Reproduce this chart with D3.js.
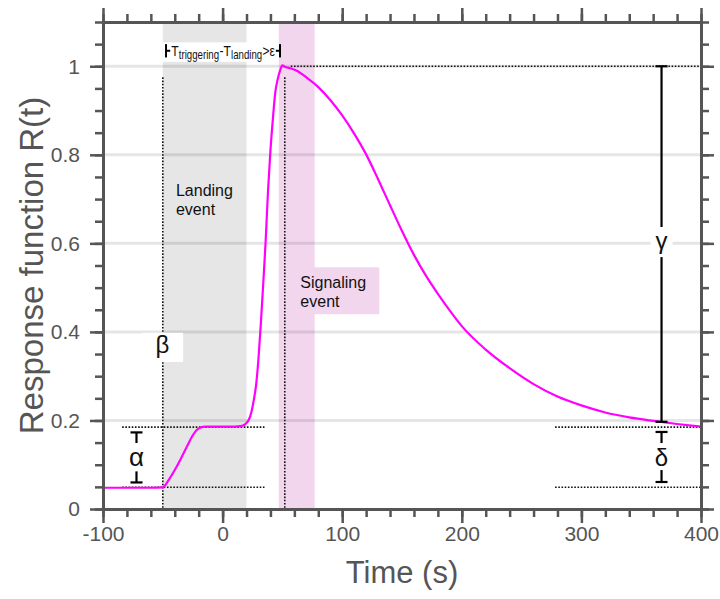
<!DOCTYPE html>
<html>
<head>
<meta charset="utf-8">
<script src="https://cdn.jsdelivr.net/npm/d3@7"></script>
<style>
  body { margin: 0; background: #fff; }
  svg { display: block; }
  text { font-family: "Liberation Sans", Arial, Helvetica, sans-serif; }
</style>
</head>
<body>
<div id="chart"></div>
<script>
// response curve
var timeSec = [-100, -60, -50, -45, -40, -35, -30, -25, -20, -15, 0, 10, 15, 18, 20, 22, 24, 26, 28, 30,
  32, 34, 36, 38, 40, 42, 44, 46, 48, 50, 52, 56, 62, 70, 80, 90, 100, 110, 120, 130,
  140, 150, 160, 170, 180, 190, 200, 220, 240, 260, 280, 300, 320, 340, 360, 380, 400];
var response = [0.048, 0.048, 0.049, 0.066, 0.088, 0.113, 0.140, 0.166, 0.182, 0.186, 0.186, 0.186, 0.187, 0.190, 0.194, 0.202, 0.218, 0.245, 0.280, 0.340,
  0.420, 0.510, 0.605, 0.720, 0.810, 0.880, 0.940, 0.970, 0.990, 1.002, 0.999, 0.996, 0.990, 0.975, 0.953, 0.924, 0.889, 0.848, 0.801, 0.745,
  0.686, 0.628, 0.574, 0.527, 0.486, 0.448, 0.413, 0.360, 0.318, 0.282, 0.254, 0.234, 0.218, 0.207, 0.199, 0.192, 0.186];

var xTickValues = [-100, 0, 100, 200, 300, 400];
var yTickValues = [0, 0.2, 0.4, 0.6, 0.8, 1];
var yTickLabels = ["0", "0.2", "0.4", "0.6", "0.8", "1"];
var gridValues = [0.2, 0.4, 0.6, 0.8, 1];

var landingWindow = [-50, 20];
var signalingWindow = [47, 77];

var baseLevel = 0.049;
var plateauLevel = 0.185;
var peakLevel = 1.0;
var tailLevel = 0.197;

var landingTime = -50;
var peakTime = 52;
var alphaTime = -72;
var rightMarkTime = 367;

// pieces of the "T_triggering - T_landing > ε" note: text, is it a subscript
var notePieces = [["T", false], ["triggering", true], ["-T", false], ["landing", true], [">ε", false]];

function chart() {
  var width = 720;
  var height = 599;
  var margin = {top: 22, right: 19, bottom: 90, left: 103};

  var x = d3.scaleLinear().domain([-100, 400]).range([margin.left, width - margin.right]);
  var y = d3.scaleLinear().domain([0, 1.1]).range([height - margin.bottom, margin.top]);

  var svg = d3.select("#chart")
    .append("svg")
    .attr("width", width)
    .attr("height", height);

  // shaded events
  svg.append("rect")
    .attr("x", x(landingWindow[0])).attr("width", x(landingWindow[1]) - x(landingWindow[0]))
    .attr("y", y(1.1)).attr("height", y(0) - y(1.1))
    .attr("fill", "#e6e6e6");
  svg.append("rect")
    .attr("x", x(signalingWindow[0])).attr("width", x(signalingWindow[1]) - x(signalingWindow[0]))
    .attr("y", y(1.1)).attr("height", y(0) - y(1.1))
    .attr("fill", "#f2d6ee");
  // box behind "Signaling event"
  svg.append("rect")
    .attr("x", x(signalingWindow[0])).attr("width", x(131) - x(signalingWindow[0]))
    .attr("y", y(0.546)).attr("height", y(0.44) - y(0.546))
    .attr("fill", "#f2d6ee");

  // gridlines
  svg.append("g")
    .selectAll("line")
    .data(gridValues)
    .join("line")
    .attr("x1", x(-100)).attr("x2", x(400))
    .attr("y1", function (d) { return y(d); })
    .attr("y2", function (d) { return y(d); })
    .attr("stroke", "rgba(0,0,0,0.1)")
    .attr("stroke-width", 3);

  // white box behind the top note
  svg.append("rect")
    .attr("x", x(-50)).attr("width", x(47) - x(-50))
    .attr("y", y(1.054)).attr("height", y(1.010) - y(1.054))
    .attr("fill", "#fff");

  var dotted = svg.append("g")
    .attr("stroke", "#111")
    .attr("stroke-width", 1.6)
    .attr("stroke-dasharray", "1.6,1.6")
    .attr("fill", "none");

  function dline(t1, v1, t2, v2) {
    dotted.append("line")
      .attr("x1", x(t1)).attr("y1", y(v1))
      .attr("x2", x(t2)).attr("y2", y(v2));
  }
  dline(landingTime, 0.975, landingTime, 0);
  dline(peakTime, 0.975, peakTime, 0);
  dline(57, peakLevel, 400, peakLevel);
  dline(-84, plateauLevel, 35, plateauLevel);
  dline(-84, baseLevel, 35, baseLevel);
  dline(278, plateauLevel, 400, plateauLevel);
  dline(278, baseLevel, 400, baseLevel);

  // beta box
  svg.append("rect")
    .attr("x", x(-67)).attr("width", x(-33) - x(-67))
    .attr("y", y(0.398)).attr("height", y(0.332) - y(0.398))
    .attr("fill", "#fff");

  // response curve
  var points = timeSec.map(function (t, i) { return [t, response[i]]; });
  var line = d3.line()
    .x(function (d) { return x(d[0]); })
    .y(function (d) { return y(d[1]); })
    .curve(d3.curveMonotoneX);
  svg.append("path")
    .datum(points)
    .attr("d", line)
    .attr("fill", "none")
    .attr("stroke", "#ff00ff")
    .attr("stroke-width", 2.2);

  // brackets
  var marks = svg.append("g")
    .attr("stroke", "#000")
    .attr("stroke-width", 2.2)
    .attr("fill", "none");

  function capLine(t, v1, v2, capTop, capBottom) {
    var cx = x(t);
    marks.append("line").attr("x1", cx).attr("x2", cx).attr("y1", y(v1)).attr("y2", y(v2));
    if (capTop) {
      marks.append("line").attr("x1", cx - 6).attr("x2", cx + 6).attr("y1", y(v1)).attr("y2", y(v1));
    }
    if (capBottom) {
      marks.append("line").attr("x1", cx - 6).attr("x2", cx + 6).attr("y1", y(v2)).attr("y2", y(v2));
    }
  }
  // gamma
  capLine(rightMarkTime, peakLevel, tailLevel, true, true);
  // delta
  capLine(rightMarkTime, 0.174, 0.149, true, false);
  capLine(rightMarkTime, 0.088, 0.061, false, true);
  // alpha
  capLine(alphaTime, 0.173, 0.149, true, false);
  capLine(alphaTime, 0.085, 0.06, false, true);

  // gamma label box
  svg.append("rect")
    .attr("x", x(rightMarkTime) - 11).attr("width", 22)
    .attr("y", y(0.637)).attr("height", y(0.569) - y(0.637))
    .attr("fill", "#fff");

  // top annotation brackets
  var ann = svg.append("g").attr("stroke", "#000").attr("stroke-width", 2).attr("fill", "none");
  ann.append("line").attr("x1", x(-47.3)).attr("x2", x(-47.3)).attr("y1", y(1.050)).attr("y2", y(1.020));
  ann.append("line").attr("x1", x(-47.3)).attr("x2", x(-43.8)).attr("y1", y(1.035)).attr("y2", y(1.035));
  ann.append("line").attr("x1", x(48)).attr("x2", x(48)).attr("y1", y(1.050)).attr("y2", y(1.020));
  ann.append("line").attr("x1", x(44.5)).attr("x2", x(48)).attr("y1", y(1.035)).attr("y2", y(1.035));

  // note text: pieces laid side by side, then squeezed to fit between the brackets
  var noteG = svg.append("g");
  var cursor = 0;
  notePieces.forEach(function (p) {
    var t = noteG.append("text")
      .attr("x", cursor)
      .attr("y", p[1] ? 3 : 0)
      .attr("font-size", p[1] ? 12 : 15)
      .attr("fill", "#111")
      .text(p[0]);
    cursor += t.node().getComputedTextLength() + 0.3;
  });
  var sx = (x(44) - x(-43)) / cursor;
  noteG.attr("transform", "translate(" + x(-43) + "," + y(1.024) + ") scale(" + sx + ",1)");

  // labels
  function label(txt, t, v, size, anchor) {
    return svg.append("text")
      .attr("x", x(t)).attr("y", y(v))
      .attr("font-size", size)
      .attr("text-anchor", anchor || "start")
      .attr("fill", "#111")
      .text(txt);
  }
  label("Landing", -39, 0.707, 16);
  label("event", -39, 0.664, 16);
  label("Signaling", 65, 0.499, 16);
  label("event", 65, 0.456, 16);
  label("β", -50.4, 0.352, 24, "middle");
  label("γ", rightMarkTime, 0.588, 24, "middle");
  label("α", alphaTime, 0.097, 26, "middle");
  label("δ", rightMarkTime, 0.097, 24, "middle");

  // axes
  var plotW = width - margin.left - margin.right;
  var plotH = height - margin.top - margin.bottom;
  var xMinor = d3.range(-100, 401, 20);
  var yMinor = d3.range(0, 1.1001, 0.05);

  function styleAxis(g) {
    g.select(".domain").attr("stroke", "#555").attr("stroke-width", 3);
    g.selectAll(".tick line").attr("stroke", "#555").attr("stroke-width", 2.5);
    g.selectAll(".tick text").attr("fill", "#555").attr("font-size", 21)
      .attr("font-family", "\"Liberation Sans\", Arial, sans-serif");
  }

  svg.append("g").attr("transform", "translate(0," + y(0) + ")")
    .call(d3.axisBottom(x).tickValues(xMinor).tickSize(8).tickSizeOuter(0).tickFormat(""))
    .call(styleAxis);
  svg.append("g").attr("transform", "translate(0," + y(0) + ")")
    .call(d3.axisBottom(x).tickValues(xTickValues).tickSize(14).tickSizeOuter(0).tickPadding(3)
      .tickFormat(function (d) { return String(d); }))
    .call(styleAxis);
  svg.append("g").attr("transform", "translate(0," + y(1.1) + ")")
    .call(d3.axisTop(x).tickValues(xMinor).tickSize(8).tickSizeOuter(0).tickFormat(""))
    .call(styleAxis);
  svg.append("g").attr("transform", "translate(0," + y(1.1) + ")")
    .call(d3.axisTop(x).tickValues(xTickValues).tickSize(14).tickSizeOuter(0).tickFormat(""))
    .call(styleAxis);

  svg.append("g").attr("transform", "translate(" + x(-100) + ",0)")
    .call(d3.axisLeft(y).tickValues(yMinor).tickSize(8).tickSizeOuter(0).tickFormat(""))
    .call(styleAxis);
  svg.append("g").attr("transform", "translate(" + x(-100) + ",0)")
    .call(d3.axisLeft(y).tickValues(yTickValues).tickSize(13).tickSizeOuter(0).tickPadding(10)
      .tickFormat(function (d, i) { return yTickLabels[i]; }))
    .call(styleAxis);
  svg.append("g").attr("transform", "translate(" + x(400) + ",0)")
    .call(d3.axisRight(y).tickValues(yMinor).tickSize(8).tickSizeOuter(0).tickFormat(""))
    .call(styleAxis);
  svg.append("g").attr("transform", "translate(" + x(400) + ",0)")
    .call(d3.axisRight(y).tickValues(yTickValues).tickSize(13).tickSizeOuter(0).tickFormat(""))
    .call(styleAxis);

  svg.append("text")
    .attr("x", margin.left + plotW / 2).attr("y", 583)
    .attr("text-anchor", "middle")
    .attr("font-size", 31)
    .attr("fill", "#555")
    .text("Time (s)");

  svg.append("text")
    .attr("transform", "translate(43," + (margin.top + plotH / 2) + ") rotate(-90)")
    .attr("text-anchor", "middle")
    .attr("font-size", 33)
    .attr("fill", "#555")
    .text("Response function R(t)");
}

chart();
</script>
</body>
</html>
